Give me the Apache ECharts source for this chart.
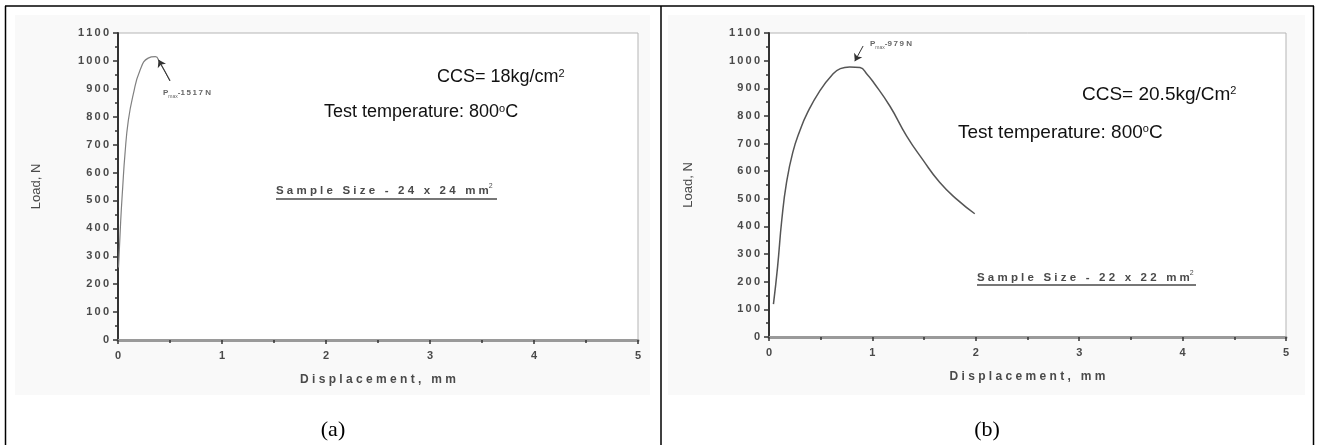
<!DOCTYPE html>
<html>
<head>
<meta charset="utf-8">
<script src="https://cdn.jsdelivr.net/npm/echarts@6/dist/echarts.min.js"></script>
<style>
  html, body { margin: 0; padding: 0; background: #fff; }
  #main { width: 1319px; height: 445px; }
</style>
</head>
<body>
<div id="main"></div>
<script>
// (a) sample 24 x 24 mm
const dispA = [0.005, 0.026, 0.045, 0.067, 0.099, 0.147, 0.21, 0.29, 0.36, 0.40, 0.50];
const loadA = [260, 427, 546, 666, 786, 881, 965, 1010, 1015, 995, 930];
const arrowA = [[0.50, 928], [0.39, 1004]];

// (b) sample 22 x 22 mm
const dispB = [0.043, 0.083, 0.124, 0.17, 0.23, 0.30, 0.37, 0.49, 0.61, 0.69, 0.78, 0.88, 0.95, 1.01, 1.17, 1.33, 1.49, 1.65, 1.82, 1.99];
const loadB = [119, 254, 425, 560, 668, 748, 810, 890, 948, 971, 977, 975, 950, 922, 835, 728, 640, 560, 497, 446];
const arrowB = [[0.91, 1053], [0.83, 998]];

// axis ranges [min, max, interval]
const xRange = [0, 5, 1];
const yRange = [0, 1100, 100];

const FONT = '"Liberation Sans", Arial, sans-serif';
const spaced = s => s.split('').join(' ');
const thin = v => String(v).split('').join('\u2009');

function xAxisFor(i) {
  return {
    type: 'value', gridIndex: i, min: xRange[0], max: xRange[1], interval: xRange[2],
    axisLine: { lineStyle: { color: '#9a9a9a', width: 3 } },
    axisTick: { length: 4, lineStyle: { color: '#333', width: 1.5 } },
    minorTick: { show: true, splitNumber: 2, length: 3, lineStyle: { color: '#333', width: 1.5 } },
    splitLine: { show: false },
    axisLabel: { color: '#4a4a4a', fontSize: 11, fontWeight: 'bold', fontFamily: FONT, margin: 10, formatter: thin },
    name: spaced('Displacement, mm'), nameLocation: 'middle', nameGap: 34,
    nameTextStyle: { color: '#4a4a4a', fontSize: 12, fontWeight: 'bold', fontFamily: FONT }
  };
}
function yAxisFor(i, gap) {
  return {
    type: 'value', gridIndex: i, min: yRange[0], max: yRange[1], interval: yRange[2],
    axisLine: { lineStyle: { color: '#333', width: 2 } },
    axisTick: { length: 5, lineStyle: { color: '#333', width: 1.5 } },
    minorTick: { show: true, splitNumber: 2, length: 3, lineStyle: { color: '#333', width: 1.5 } },
    splitLine: { show: false },
    axisLabel: { color: '#4a4a4a', fontSize: 11, fontWeight: 'bold', fontFamily: FONT, margin: 9, formatter: thin },
    name: 'Load, N', nameLocation: 'middle', nameGap: gap, nameRotate: 90,
    nameTextStyle: { color: '#4a4a4a', fontSize: 13, fontFamily: FONT }
  };
}
function curve(i, xs, ys, color, width, arrow) {
  return {
    type: 'line', xAxisIndex: i, yAxisIndex: i, smooth: 0.5, showSymbol: false, silent: true,
    data: xs.map((x, k) => [x, ys[k]]),
    lineStyle: { color: color, width: width },
    markLine: {
      silent: true, symbol: ['none', 'arrow'], symbolSize: 7,
      lineStyle: { color: '#333', width: 1, type: 'solid' },
      label: { show: false },
      data: [[{ coord: arrow[0] }, { coord: arrow[1] }]]
    }
  };
}

function txt(x, y, text, rich) {
  return { type: 'text', x: x, y: y, z: 10, style: { text: text, verticalAlign: 'middle', align: 'left', rich: rich } };
}
const bigRich = size => ({
  m: { fontSize: size, fontFamily: FONT, fill: '#111' },
  s: { fontSize: Math.round(size * 0.6), fontFamily: FONT, fill: '#111', verticalAlign: 'top', padding: [0, 0, 6, 0] }
});
const sampleRich = {
  m: { fontSize: 11.5, fontWeight: 'bold', fontFamily: FONT, fill: '#4a4a4a' },
  s: { fontSize: 7, fontFamily: FONT, fill: '#4a4a4a', padding: [0, 0, 10, 0] }
};
const pRich = {
  m: { fontSize: 8, fontWeight: 'bold', fontFamily: FONT, fill: '#666' },
  s: { fontSize: 5, fontFamily: FONT, fill: '#666', padding: [8, 0, 0, 0] }
};
function hline(x1, x2, y, w, c) {
  return { type: 'line', z: 10, shape: { x1: x1, y1: y, x2: x2, y2: y }, style: { stroke: c, lineWidth: w } };
}
function vline(x, y1, y2, w, c) {
  return { type: 'line', z: 10, shape: { x1: x, y1: y1, x2: x, y2: y2 }, style: { stroke: c, lineWidth: w } };
}

const chart = echarts.init(document.getElementById('main'));
chart.setOption({
  backgroundColor: '#fff',
  animation: false,
  grid: [
    { left: 118, top: 33, width: 520, height: 307, show: true, borderColor: '#b5b5b5', borderWidth: 1, backgroundColor: '#fff' },
    { left: 769, top: 33, width: 517, height: 304, show: true, borderColor: '#b5b5b5', borderWidth: 1, backgroundColor: '#fff' }
  ],
  xAxis: [xAxisFor(0), xAxisFor(1)],
  yAxis: [yAxisFor(0, 75), yAxisFor(1, 74)],
  series: [
    curve(0, dispA, loadA, '#808080', 1.2, arrowA),
    curve(1, dispB, loadB, '#555', 1.5, arrowB)
  ],
  graphic: [
    // scanned figure backgrounds
    { type: 'rect', z: -10, shape: { x: 15, y: 15, width: 635, height: 380 }, style: { fill: '#f9f9f9' } },
    { type: 'rect', z: -10, shape: { x: 668, y: 15, width: 637, height: 380 }, style: { fill: '#f9f9f9' } },
    // table borders
    hline(5, 1314, 6, 1.5, '#000'),
    vline(5.5, 6, 445, 1.5, '#000'),
    vline(661, 6, 445, 1.5, '#000'),
    vline(1313.5, 6, 445, 1.5, '#000'),
    // panel (a) notes
    txt(437, 77, '{m|CCS= 18kg/cm}{s|2}', bigRich(18)),
    txt(324, 112, '{m|Test temperature: 800}{s|o}{m|C}', bigRich(18)),
    txt(276, 191, '{m|' + spaced('Sample Size - 24 x 24 mm') + '}{s|2}', sampleRich),
    hline(276, 497, 199, 1.5, '#4a4a4a'),
    txt(163, 93, '{m|P}{s|max}{m|-' + thin('1517') + ' N}', pRich),
    // panel (b) notes
    txt(1082, 95, '{m|CCS= 20.5kg/Cm}{s|2}', bigRich(19)),
    txt(958, 133, '{m|Test temperature: 800}{s|o}{m|C}', bigRich(19)),
    txt(977, 278, '{m|' + spaced('Sample Size - 22 x 22 mm') + '}{s|2}', sampleRich),
    hline(977, 1196, 285, 1.5, '#4a4a4a'),
    txt(870, 44, '{m|P}{s|max}{m|-' + thin('979') + ' N}', pRich),
    // captions
    { type: 'text', x: 333, y: 430, style: { text: '(a)', font: '22px "Liberation Serif", "Times New Roman", serif', fill: '#000', align: 'center', verticalAlign: 'middle' } },
    { type: 'text', x: 987, y: 430, style: { text: '(b)', font: '22px "Liberation Serif", "Times New Roman", serif', fill: '#000', align: 'center', verticalAlign: 'middle' } }
  ]
});
</script>
</body>
</html>
